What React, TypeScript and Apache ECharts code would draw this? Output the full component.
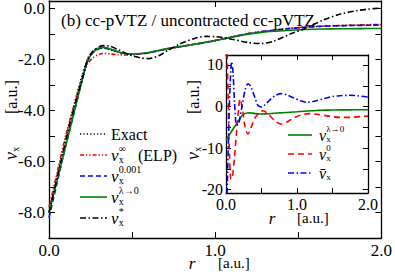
import React, { useEffect, useRef } from "react";
import * as echarts from "echarts";

// ---------- main panel data (r in a.u., v_x in a.u.) ----------
const rMain = [0, 0.05, 0.1, 0.15, 0.2, 0.23, 0.26, 0.3, 0.33, 0.37, 0.42, 0.48, 0.55, 0.6, 0.66, 0.72, 0.8, 0.88, 0.94, 1.0, 1.1, 1.2, 1.27, 1.35, 1.45, 1.54, 1.65, 1.75, 1.85, 1.92, 2.0];
const vExact = [-8.0, -6.5, -5.1, -3.8, -2.6, -2.0, -1.7, -1.55, -1.55, -1.62, -1.72, -1.78, -1.77, -1.73, -1.65, -1.57, -1.48, -1.39, -1.32, -1.25, -1.11, -0.98, -0.91, -0.85, -0.78, -0.73, -0.69, -0.67, -0.65, -0.64, -0.63];
const vELP = [-7.8, -6.4, -5.0, -3.8, -2.7, -2.2, -1.95, -1.8, -1.76, -1.78, -1.81, -1.82, -1.78, -1.73, -1.65, -1.57, -1.48, -1.39, -1.32, -1.25, -1.11, -0.98, -0.91, -0.84, -0.77, -0.72, -0.68, -0.66, -0.64, -0.63, -0.62];
const v0001 = [-8.2, -6.8, -5.4, -4.1, -2.8, -2.1, -1.76, -1.58, -1.55, -1.6, -1.71, -1.78, -1.77, -1.73, -1.65, -1.57, -1.48, -1.39, -1.32, -1.25, -1.11, -0.98, -0.91, -0.85, -0.78, -0.73, -0.69, -0.67, -0.66, -0.65, -0.64];
const vLambda0 = [-8.0, -6.7, -5.4, -4.1, -2.8, -2.1, -1.75, -1.56, -1.52, -1.58, -1.7, -1.78, -1.76, -1.72, -1.64, -1.56, -1.48, -1.4, -1.33, -1.26, -1.12, -1.0, -0.94, -0.89, -0.85, -0.82, -0.8, -0.79, -0.785, -0.78, -0.78];
const vStar = [-8.0, -6.6, -5.2, -3.9, -2.75, -2.05, -1.7, -1.5, -1.45, -1.48, -1.62, -1.8, -1.93, -1.96, -1.85, -1.62, -1.35, -1.16, -1.09, -1.1, -1.2, -1.33, -1.37, -1.28, -1.0, -0.78, -0.45, -0.22, -0.08, -0.02, 0.02];

// ---------- inset data ----------
const rInsetRed = [0, 0.015, 0.03, 0.05, 0.07, 0.09, 0.12, 0.16, 0.2, 0.24, 0.27, 0.31, 0.35, 0.4, 0.46, 0.52, 0.6, 0.68, 0.77, 0.85, 0.95, 1.05, 1.18, 1.3, 1.45, 1.6, 1.75, 1.9, 2.0];
const vZero = [20, 13, 2, -12, -17.5, -17, -12, -4, 1.8, -1.5, -5, -6.6, -5.2, -3, -1.6, -1.0, -1.9, -3.3, -4.2, -3.8, -2.8, -2.1, -1.7, -1.9, -2.3, -2.6, -2.6, -2.4, -2.3];
const rInsetBlue = [0, 0.02, 0.04, 0.06, 0.08, 0.1, 0.12, 0.15, 0.18, 0.22, 0.27, 0.31, 0.35, 0.4, 0.45, 0.5, 0.56, 0.63, 0.7, 0.78, 0.86, 0.95, 1.05, 1.14, 1.25, 1.38, 1.5, 1.6, 1.72, 1.85, 2.0];
const vBar = [-30, -18, -4, 6, 10.8, 8, 1, -4.5, -4, -0.5, 4, 5.5, 4.8, 2.5, 0.3, -0.1, 0.6, 1.8, 2.7, 3.1, 2.8, 2.1, 1.4, 1.0, 1.3, 1.9, 2.4, 2.6, 2.7, 2.6, 2.3];

// ---------- tick labels ----------
const mainXTicks = [0, 0.5, 1, 1.5, 2];
const mainXLabels = [0, 1, 2];
const mainYTicks = [-9, -8, -7, -6, -5, -4, -3, -2, -1, 0];
const mainYLabels = [-8, -6, -4, -2, 0];
const insetXTicks = [0, 0.5, 1, 1.5, 2];
const insetXLabels = [0, 1, 2];
const insetYTicks = [-20, -15, -10, -5, 0, 5, 10];
const insetYLabels = [-20, -10, 0, 10];

const FONT = "Liberation Serif";

const zip = (xs: number[], ys: number[]) => xs.map((x, i) => [x, ys[i]]);

function axisBase(color = "#000") {
  return {
    type: "value" as const,
    axisLine: { show: true, onZero: false, lineStyle: { color, width: 1.3 } },
    splitLine: { show: false },
  };
}

function txt(x: number, y: number, text: string, fs: number, italic = false, align = "left") {
  return {
    type: "text",
    x,
    y,
    z: 100,
    style: {
      text,
      fontFamily: FONT,
      fontSize: fs,
      fontStyle: italic ? "italic" : "normal",
      fill: "#000",
      align,
      verticalAlign: "middle",
    },
  };
}

// v with subscript / superscript stacked
function mathV(x: number, y: number, fs: number, sub: string, sup: string, bar = false) {
  const els: any[] = [txt(x, y, bar ? "v\u0304" : "v", fs, true)];
  const off = x + fs * 0.46;
  const small = Math.round(fs * 0.58);
  if (sub) els.push(txt(off, y + fs * 0.24, sub, small));
  if (sup) els.push(txt(off, y - fs * 0.36, sup, small));
  return els;
}

function legendLine(x1: number, x2: number, y: number, color: string, dash: number[] | null) {
  return {
    type: "line",
    z: 100,
    shape: { x1, y1: y, x2, y2: y },
    style: { stroke: color, lineWidth: 1.6, lineDash: dash || undefined },
  };
}

export default function App() {
  const ref = useRef<HTMLDivElement>(null);
  useEffect(() => {
    if (!ref.current) return;
    const chart = echarts.init(ref.current, null, { renderer: "svg" });

    const DOT = [1.2, 2.2];
    const DASHDOT = [6, 2.5, 1.5, 2.5];
    const DASHDOTDOT = [4, 2, 1.3, 2, 1.3, 2];
    const DASH = [5, 3];

    const legendMainX1 = 80;
    const legendMainX2 = 107;
    const legendMainTx = 111;
    const legY = [134, 155, 176, 197, 218];
    const insY = [135, 154, 173];

    const graphic: any[] = [
      // main legend
      legendLine(legendMainX1, legendMainX2, legY[0], "#000", DOT),
      txt(legendMainTx, legY[0], "Exact", 16),
      legendLine(legendMainX1, legendMainX2, legY[1], "#ff0000", DASHDOTDOT),
      ...mathV(legendMainTx, legY[1], 17, "x", "\u221E"),
      txt(legendMainTx + 27, legY[1], "(ELP)", 16),
      legendLine(legendMainX1, legendMainX2, legY[2], "#0000ff", DASH),
      ...mathV(legendMainTx, legY[2], 17, "x", "0.001"),
      legendLine(legendMainX1, legendMainX2, legY[3], "#008000", null),
      ...mathV(legendMainTx, legY[3], 17, "x", "\u03BB\u21920"),
      legendLine(legendMainX1, legendMainX2, legY[4], "#000", DASHDOT),
      ...mathV(legendMainTx, legY[4], 17, "x", "*"),
      // inset legend
      legendLine(288, 312, insY[0], "#008000", null),
      ...mathV(319, insY[0], 16, "x", "\u03BB\u21920"),
      legendLine(288, 312, insY[1], "#ff0000", [6, 4]),
      ...mathV(319, insY[1], 16, "x", "0"),
      legendLine(288, 312, insY[2], "#0000ff", DASHDOT),
      ...mathV(319, insY[2], 16, "x", "", true),
      // main x name
      txt(192, 263, "r", 17, true, "center"),
      txt(218, 263, "[a.u.]", 15),
      // inset x name
      txt(272, 218, "r", 17, true, "center"),
      txt(297, 218, "[a.u.]", 15),
      // main y name (rotated)
      {
        type: "group",
        x: 11,
        y: 160,
        rotation: Math.PI / 2,
        z: 100,
        children: [...mathV(0, 0, 18, "x", ""), txt(46, 0, "[a.u.]", 16)],
      },
      // inset y name (rotated)
      {
        type: "group",
        x: 193,
        y: 160,
        rotation: Math.PI / 2,
        z: 100,
        children: [...mathV(0, 0, 18, "x", ""), txt(46, 0, "[a.u.]", 16)],
      },
    ];

    const tick = (len: number, customValues: number[]) => ({
      show: true,
      inside: true,
      length: len,
      lineStyle: { color: "#000", width: 1 },
      customValues,
    });

    const lineSeries = (name: string, data: number[][], color: string, dash: any, xi: number, yi: number, z: number) => ({
      type: "line",
      name,
      data,
      xAxisIndex: xi,
      yAxisIndex: yi,
      showSymbol: false,
      symbol: "none",
      smooth: 0.3,
      clip: true,
      z,
      lineStyle: { color, width: 1.6, type: dash },
    });

    const labelStyle = (fs: number, margin: number, customValues: number[], fmt: (v: number) => string) => ({
      margin,
      color: "#000",
      fontFamily: FONT,
      fontSize: fs,
      customValues,
      formatter: fmt,
    });

    chart.setOption({
      animation: false,
      backgroundColor: "#fff",
      title: {
        text: "(b) cc-pVTZ / uncontracted cc-pVTZ",
        left: 56,
        top: 7,
        textStyle: { fontFamily: FONT, fontSize: 17, fontWeight: "normal", color: "#000" },
      },
      grid: [
        { left: 49, top: 1, width: 336, height: 237, show: false },
        { left: 226, top: 55, width: 142, height: 138, show: true, backgroundColor: "#fff", borderWidth: 0, z: 3 },
      ],
      xAxis: [
        {
          ...axisBase(), gridIndex: 0, position: "bottom", min: 0, max: 2,
          axisTick: tick(6, mainXTicks),
          axisLabel: labelStyle(17, 4, mainXLabels, (v) => v.toFixed(1)),
        },
        {
          ...axisBase(), gridIndex: 0, position: "top", min: 0, max: 2,
          axisTick: tick(6, [1]),
          axisLabel: { show: false },
        },
        {
          ...axisBase(), gridIndex: 1, position: "bottom", min: 0, max: 2, z: 4,
          axisTick: tick(5, insetXTicks),
          axisLabel: labelStyle(16, 3, insetXLabels, (v) => v.toFixed(1)),
        },
        {
          ...axisBase(), gridIndex: 1, position: "top", min: 0, max: 2, z: 4,
          axisTick: tick(5, insetXTicks),
          axisLabel: { show: false },
        },
      ],
      yAxis: [
        {
          ...axisBase(), gridIndex: 0, position: "left", min: -9, max: 0.3,
          axisTick: tick(6, mainYTicks),
          axisLabel: labelStyle(17, 4, mainYLabels, (v) => v.toFixed(1)),
        },
        {
          ...axisBase(), gridIndex: 0, position: "right", min: -9, max: 0.3,
          axisTick: tick(6, mainYTicks),
          axisLabel: { show: false },
        },
        {
          ...axisBase(), gridIndex: 1, position: "left", min: -20.8, max: 12.4, z: 4,
          axisTick: tick(5, insetYTicks),
          axisLabel: labelStyle(16, 3, insetYLabels, (v) => String(v)),
        },
        {
          ...axisBase(), gridIndex: 1, position: "right", min: -20.8, max: 12.4, z: 4,
          axisTick: tick(5, insetYTicks),
          axisLabel: { show: false },
        },
      ],
      series: [
        lineSeries("Exact", zip(rMain, vExact), "#000", DOT, 0, 0, 2),
        lineSeries("v_x^inf (ELP)", zip(rMain, vELP), "#ff0000", DASHDOTDOT, 0, 0, 2),
        lineSeries("v_x^0.001", zip(rMain, v0001), "#0000ff", DASH, 0, 0, 2),
        lineSeries("v_x^lambda->0", zip(rMain, vLambda0), "#008000", "solid", 0, 0, 2),
        lineSeries("v_x^*", zip(rMain, vStar), "#000", DASHDOT, 0, 0, 2),
        lineSeries("inset v_x^lambda->0", zip(rMain, vLambda0), "#008000", "solid", 2, 2, 5),
        lineSeries("inset v_x^0", zip(rInsetRed, vZero), "#ff0000", [6, 4], 2, 2, 5),
        lineSeries("inset vbar_x", zip(rInsetBlue, vBar), "#0000ff", DASHDOT, 2, 2, 5),
      ],
      graphic,
    });
    return () => chart.dispose();
  }, []);
  return <div ref={ref} style={{ position: "absolute", left: 0, top: 0, width: 395, height: 272 }} />;
}
